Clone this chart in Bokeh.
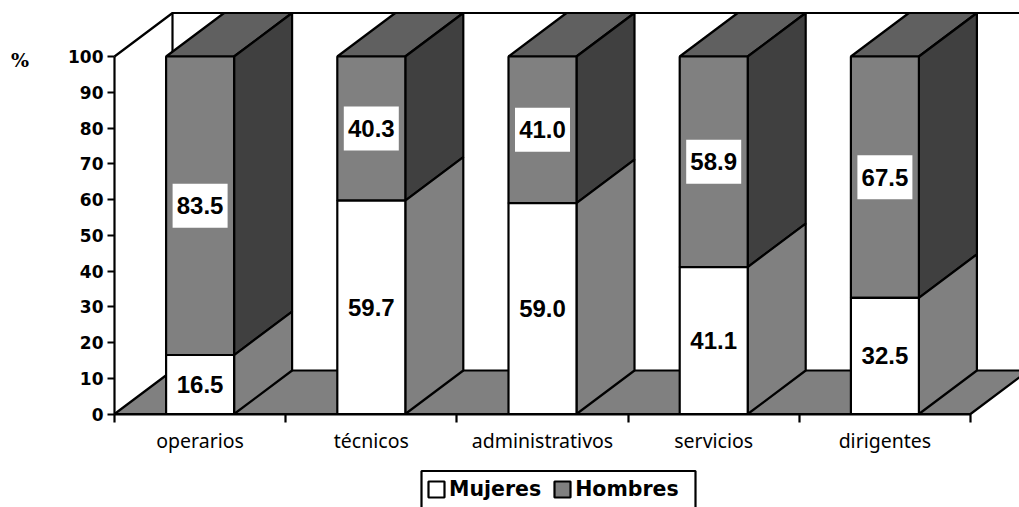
import numpy as np
from bokeh.core.properties import value
from bokeh.embed import file_html
from bokeh.models import FixedTicker, Label, Legend, LegendItem, LinearAxis, Range1d
from bokeh.plotting import figure
from bokeh.resources import INLINE

categories = ["operarios", "técnicos", "administrativos", "servicios", "dirigentes"]
mujeres = [16.5, 59.7, 59.0, 41.1, 32.5]
hombres = [83.5, 40.3, 41.0, 58.9, 67.5]
value_ticks = [0, 10, 20, 30, 40, 50, 60, 70, 80, 90, 100]

WHITE, MID, TOPC, DARK = "#ffffff", "#808080", "#606060", "#404040"
INK = "#000000"

# Canvas layout: the frame fills the page, the axes sit inside it
W, H = 1019, 507
LEFT, BASE = 114, 413.5
SLOT_PX, UNIT_PX = 171.2, 3.575

# Oblique depth vector of the pseudo-3D box, in data units
DX, DY = 58 / SLOT_PX, 43.5 / UNIT_PX
BAR_W = 68 / SLOT_PX

p = figure(
    width=W, height=H, output_backend="svg", toolbar_location=None,
    x_range=Range1d(-LEFT / SLOT_PX, (W - LEFT) / SLOT_PX),
    y_range=Range1d(-(H - BASE) / UNIT_PX, BASE / UNIT_PX),
    x_axis_location=None, y_axis_location=None,
    min_border=0,
)
p.grid.visible = False
p.outline_line_color = None
p.background_fill_color = WHITE
p.border_fill_color = WHITE

n = len(categories)
LW = 2.2

# Floor of the box, then its back and left wall edges
p.patch([0, DX, n + DX, n], [0, DY, DY, 0], fill_color=MID, line_color=INK, line_width=LW)
p.line([0, DX, n + DX], [100, 100 + DY, 100 + DY], line_color=INK, line_width=LW)
p.line([DX, DX], [DY, 100 + DY], line_color=INK, line_width=LW)


def prism(x0, y0, y1, front, side, top=None):
    """Front face, right side and optional lid of one stacked segment."""
    x1 = x0 + BAR_W
    if top:
        p.patch([x0, x0 + DX, x1 + DX, x1], [y1, y1 + DY, y1 + DY, y1],
                fill_color=top, line_color=INK, line_width=LW)
    p.patch([x1, x1 + DX, x1 + DX, x1], [y0, y0 + DY, y1 + DY, y1],
            fill_color=side, line_color=INK, line_width=LW)
    return p.patch([x0, x1, x1, x0], [y0, y0, y1, y1],
                   fill_color=front, line_color=INK, line_width=LW)


centers = np.arange(n) + 0.5
r_m = r_h = None
for c, m, h in zip(centers, mujeres, hombres):
    x0 = c - BAR_W / 2
    r_h = prism(x0, m, m + h, MID, DARK, TOPC)
    r_m = prism(x0, 0, m, WHITE, MID)

# Value labels on white plates
label_x = np.concatenate([centers, centers])
label_y = np.concatenate([np.array(mujeres) / 2, np.array(mujeres) + np.array(hombres) / 2])
label_t = [f"{v:.1f}" for v in mujeres + hombres]
p.rect(label_x, label_y, width=55, height=44, width_units="screen", height_units="screen",
       fill_color=WHITE, line_color=None)
p.text(label_x, label_y, text=label_t, text_align="center", text_baseline="middle",
       text_font=value("Liberation Sans"), text_font_style="bold", text_font_size="24px",
       text_color=INK)

# Value axis pinned to the left edge of the box
ya = LinearAxis(fixed_location=0, ticker=FixedTicker(ticks=value_ticks), bounds=(0, 100))
ya.axis_line_color = INK
ya.axis_line_width = LW
ya.major_tick_line_color = INK
ya.major_tick_line_width = LW
ya.major_tick_in = 0
ya.major_tick_out = 7
ya.minor_tick_line_color = None
ya.major_label_standoff = 4
ya.major_label_text_font = "DejaVu Sans"
ya.major_label_text_font_style = "bold"
ya.major_label_text_font_size = "17px"
ya.major_label_text_color = INK
p.add_layout(ya, "left")

# Category axis: ticks between slots, names at slot centres
xa = LinearAxis(fixed_location=0, bounds=(0, n),
                ticker=FixedTicker(ticks=list(centers), minor_ticks=list(range(n + 1))))
xa.major_label_overrides = {float(c): name for c, name in zip(centers, categories)}
xa.axis_line_color = INK
xa.axis_line_width = LW
xa.major_tick_line_color = None
xa.minor_tick_line_color = INK
xa.minor_tick_line_width = LW
xa.minor_tick_in = 0
xa.minor_tick_out = 8
xa.major_label_standoff = 5
xa.major_label_text_font = "Noto Sans"
xa.major_label_text_font_size = "19.5px"
xa.major_label_text_color = INK
p.add_layout(xa, "below")

p.add_layout(Label(x=19.5, y=H - 59, x_units="screen", y_units="screen", text="%",
                   text_font="DejaVu Serif", text_font_style="bold", text_font_size="19px",
                   text_align="center", text_baseline="middle", text_color=INK))

# Legend frame, running off the bottom of the page
px_x = lambda v: (v - LEFT) / SLOT_PX
px_y = lambda v: (BASE - v) / UNIT_PX
p.quad(left=px_x(421), right=px_x(695), top=px_y(470.5), bottom=px_y(512),
       fill_color=WHITE, line_color=INK, line_width=LW)

legend = Legend(
    items=[LegendItem(label="Mujeres", renderers=[r_m]), LegendItem(label="Hombres", renderers=[r_h])],
    orientation="horizontal", location=(426, 6),
    border_line_color=None, background_fill_alpha=0,
    label_text_font="DejaVu Sans", label_text_font_style="bold", label_text_font_size="20.5px",
    label_text_color=INK, glyph_width=20, glyph_height=20, label_standoff=3, spacing=11,
    margin=0, padding=5,
)
p.add_layout(legend, "center")

open("out.html", "w").write(file_html(p, INLINE))
